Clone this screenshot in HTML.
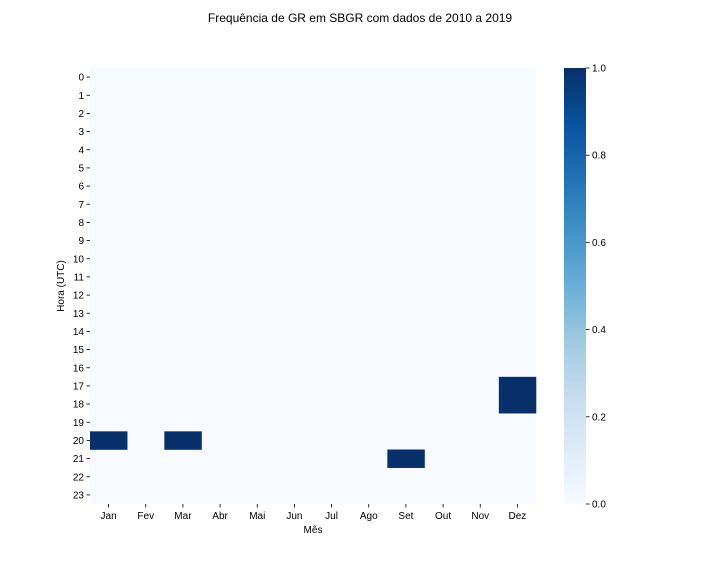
<!DOCTYPE html>
<html><head><meta charset="utf-8"><style>
body{margin:0;background:#fff;font-family:"Liberation Sans",sans-serif;}
svg text{font-family:"Liberation Sans",sans-serif;font-size:10px;fill:#000;}
</style></head><body>
<svg id="chart" width="720" height="576" xmlns="http://www.w3.org/2000/svg">
<defs><linearGradient id="blues" x1="0" y1="1" x2="0" y2="0">
<stop offset="0" stop-color="#f7fbff"/><stop offset="0.125" stop-color="#deebf7"/><stop offset="0.25" stop-color="#c6dbef"/><stop offset="0.375" stop-color="#9ecae1"/><stop offset="0.5" stop-color="#6baed6"/><stop offset="0.625" stop-color="#4292c6"/><stop offset="0.75" stop-color="#2171b5"/><stop offset="0.875" stop-color="#08519c"/><stop offset="1" stop-color="#08306b"/></linearGradient></defs>
<text x="360" y="22" text-anchor="middle" style="font-size:12px">Frequência de GR em SBGR com dados de 2010 a 2019</text>
<text transform="translate(64,286) rotate(-90)" text-anchor="middle">Hora (UTC)</text>
<text x="313" y="533" text-anchor="middle">Mês</text>
<g id="cells"></g><g id="ticks"></g>
<rect x="564" y="68" width="22" height="436" fill="url(#blues)"/>
<g id="cbticks"></g>
</svg>
<script>
const months=["Jan","Fev","Mar","Abr","Mai","Jun","Jul","Ago","Set","Out","Nov","Dez"];
const hours=[0,1,2,3,4,5,6,7,8,9,10,11,12,13,14,15,16,17,18,19,20,21,22,23];
const hitMonths=[0,2,8,11,11];
const hitHours=[20,20,21,17,18];
const hitValues=[1,1,1,1,1];
const cbTicks=[0,0.2,0.4,0.6,0.8,1.0];
const X0=90,X1=536,Y0=68,Y1=504;
const cw=(X1-X0)/months.length, ch=(Y1-Y0)/hours.length;
const NS="http://www.w3.org/2000/svg";
function col(v){const a=[247,251,255],b=[8,48,107];return `rgb(${a.map((c,i)=>Math.round(c+(b[i]-c)*v)).join(',')})`;}
const cells=document.getElementById('cells'),ticks=document.getElementById('ticks'),cbt=document.getElementById('cbticks');
const bg=document.createElementNS(NS,'rect');
bg.setAttribute('x',X0);bg.setAttribute('y',Y0);bg.setAttribute('width',X1-X0);bg.setAttribute('height',Y1-Y0);bg.setAttribute('fill',col(0));


cells.appendChild(bg);
hitMonths.forEach((m,i)=>{const r=document.createElementNS(NS,'rect');
r.setAttribute('x',X0+m*cw);r.setAttribute('y',Y0+hitHours[i]*ch);r.setAttribute('width',cw+0.3);r.setAttribute('height',ch+0.3);r.setAttribute('fill',col(hitValues[i]));


cells.appendChild(r);});
months.forEach((m,i)=>{const x=X0+(i+0.5)*cw;
const l=document.createElementNS(NS,'line');l.setAttribute('x1',x);l.setAttribute('x2',x);l.setAttribute('y1',Y1);l.setAttribute('y2',Y1+3.5);l.setAttribute('stroke','#000');l.setAttribute('stroke-width','0.8');ticks.appendChild(l);
const t=document.createElementNS(NS,'text');t.setAttribute('x',x);t.setAttribute('y',Y1+15);t.setAttribute('text-anchor','middle');t.textContent=m;


ticks.appendChild(t);});
hours.forEach((h,i)=>{const y=Y0+(i+0.5)*ch;
const l=document.createElementNS(NS,'line');l.setAttribute('x1',X0-3.5);l.setAttribute('x2',X0);l.setAttribute('y1',y);l.setAttribute('y2',y);l.setAttribute('stroke','#000');l.setAttribute('stroke-width','0.8');ticks.appendChild(l);
const t=document.createElementNS(NS,'text');t.setAttribute('x',X0-6);t.setAttribute('y',y+3.5);t.setAttribute('text-anchor','end');t.textContent=h;


ticks.appendChild(t);});
cbTicks.forEach(v=>{const y=Y1-v*(Y1-Y0);
const l=document.createElementNS(NS,'line');l.setAttribute('x1',586);l.setAttribute('x2',589.5);l.setAttribute('y1',y);l.setAttribute('y2',y);l.setAttribute('stroke','#000');l.setAttribute('stroke-width','0.8');cbt.appendChild(l);
const t=document.createElementNS(NS,'text');t.setAttribute('x',592);t.setAttribute('y',y+3.5);t.textContent=v.toFixed(1);


cbt.appendChild(t);});
</script>
</body></html>
